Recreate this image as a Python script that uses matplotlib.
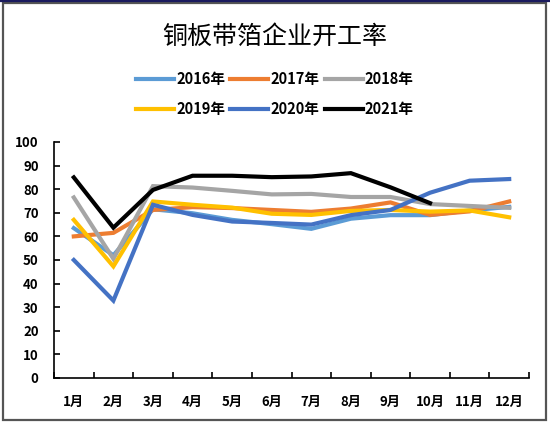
import matplotlib
matplotlib.use("Agg")
import matplotlib.pyplot as plt
from matplotlib.patches import Rectangle
from matplotlib.lines import Line2D

plt.rcParams['font.family'] = ['Noto Sans CJK SC', 'DejaVu Sans']

# 数据
months = ['1月', '2月', '3月', '4月', '5月', '6月', '7月', '8月', '9月', '10月', '11月', '12月']
y2016 = [63.5, 52.0, 71.5, 69.8, 67.0, 65.2, 63.2, 67.5, 69.0, 69.0, 71.0, 72.5]
y2017 = [60.0, 61.5, 71.2, 72.4, 72.0, 71.2, 70.4, 71.8, 74.4, 69.1, 70.6, 74.8]
y2018 = [76.5, 50.5, 81.3, 80.7, 79.3, 77.8, 78.0, 76.7, 76.7, 73.7, 72.9, 72.1]
y2019 = [67.0, 47.3, 74.8, 73.4, 72.2, 69.6, 69.1, 70.8, 71.2, 70.5, 71.0, 68.1]
y2020 = [50.0, 32.8, 73.4, 69.1, 66.3, 65.7, 65.0, 69.0, 71.2, 78.5, 83.6, 84.3]
y2021 = [85.0, 63.7, 79.7, 85.7, 85.7, 85.1, 85.4, 86.8, 80.8, 74.1]
labels = ['2016年', '2017年', '2018年', '2019年', '2020年', '2021年']
colors = ['#5B9BD5', '#ED7D31', '#A5A5A5', '#FFC000', '#4472C4', '#000000']

fig = plt.figure(figsize=(5.5, 4.24), dpi=100)
ax = fig.add_axes([0.0982, 0.1085, 0.8636, 0.5566])

series = [y2016, y2017, y2018, y2019, y2020, y2021]
for vals, lab, c in zip(series, labels, colors):
    x = list(range(1, len(vals) + 1))
    ax.plot(x, vals, color=c, lw=3, label=lab, solid_joinstyle='miter')

ax.set_xlim(0.5, 12.5)
ax.set_ylim(0, 100)
ax.set_yticks(range(0, 101, 10))
ax.set_xticks([i + 0.5 for i in range(0, 13)])
ax.set_xticklabels([])
ax.set_xticks(range(1, 13), minor=True)
ax.set_xticklabels(months, minor=True)
ax.tick_params(axis='x', which='major', direction='in', length=4, width=1.2)
ax.tick_params(axis='x', which='minor', length=0, pad=12, labelsize=9.5)
ax.tick_params(axis='y', direction='in', length=4, width=1.2, pad=11, labelsize=9.5)
for t in ax.get_xticklabels(minor=True) + ax.get_yticklabels():
    t.set_fontweight('bold')

for s in ['top', 'right']:
    ax.spines[s].set_visible(False)
for s in ['left', 'bottom']:
    ax.spines[s].set_linewidth(1.2)
    ax.spines[s].set_color('black')

fig.text(0.5, 0.913, '铜板带箔企业开工率', ha='center', va='center', fontsize=18)

# 图例按行排列: matplotlib 按列填充, 所以重排
handles = [Line2D([], [], color=c, lw=3) for c in colors]
order = [0, 3, 1, 4, 2, 5]
fig.legend([handles[i] for i in order], [labels[i] for i in order], ncol=3,
           loc='center', bbox_to_anchor=(0.5, 0.778),
           frameon=False, handlelength=2.6, handletextpad=0.15, columnspacing=0.35,
           labelspacing=1.0, prop={'weight': 'bold', 'size': 10.5})

# 外框
W, H = 550, 424
fig.patches.append(Rectangle((2.5 / W, 1 - 420 / H), 543.5 / W, 417.5 / H,
                             transform=fig.transFigure, fill=False,
                             edgecolor='#555555', lw=1.6))
fig.lines.append(Line2D([0, 1], [1 - 1 / H, 1 - 1 / H], transform=fig.transFigure,
                        color='#1a1a5e', lw=1.6))

fig.savefig('out.png', dpi=100)
